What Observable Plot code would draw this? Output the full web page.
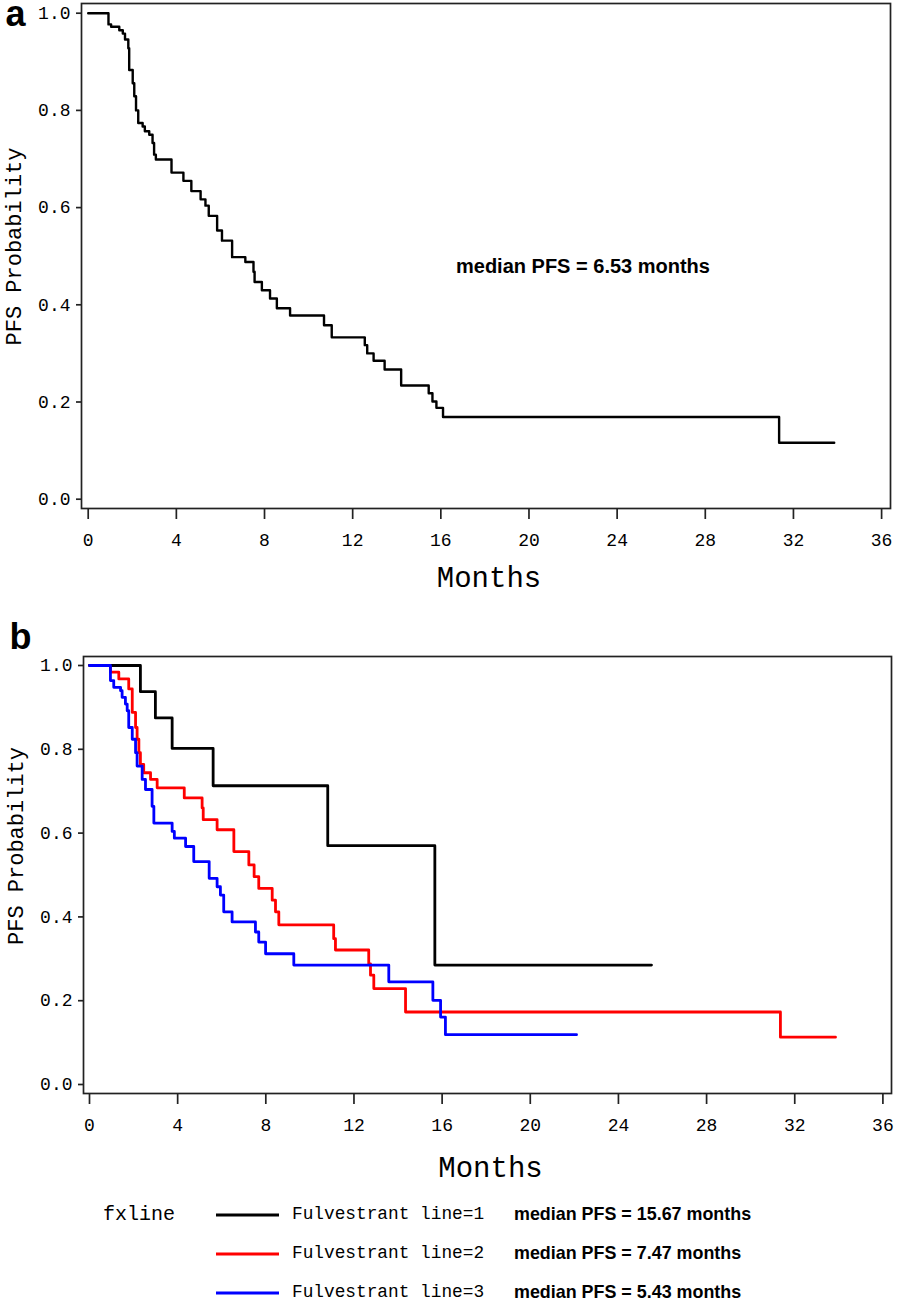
<!DOCTYPE html>
<html>
<head>
<meta charset="utf-8">
<script src="https://cdn.jsdelivr.net/npm/d3@7"></script>
<script src="https://cdn.jsdelivr.net/npm/@observablehq/plot@0.6"></script>
<style>
  html, body { margin: 0; padding: 0; background: #fff; }
  body { width: 898px; height: 1303px; position: relative; overflow: hidden; }
  #panelA { position: absolute; left: 0; top: 0; }
  #panelB { position: absolute; left: 0; top: 600px; }
  #legend { position: absolute; left: 0; top: 1190px; width: 898px; height: 113px; }
  .lg { position: absolute; white-space: nowrap; color: #000; transform: translateY(-50%); line-height: 1; }
  .sw { position: absolute; height: 3px; width: 63px; transform: translateY(-50%); }
</style>
</head>
<body>
<div id="panelA"></div>
<div id="panelB"></div>
<div id="legend"></div>
<script>
// ---------- data ----------
const monthTicks = [0, 4, 8, 12, 16, 20, 24, 28, 32, 36];
const probTicks = [0, 0.2, 0.4, 0.6, 0.8, 1.0];

// Panel a: all patients (Kaplan–Meier steps)
const allMonths = [0, 0.92, 1.04, 1.41, 1.57, 1.67, 1.82, 1.86, 2.02, 2.09, 2.17, 2.27, 2.47, 2.57, 2.77, 2.92, 2.99, 3.07, 3.78, 4.32, 4.68, 5.1, 5.32, 5.47, 5.85, 6.07, 6.53, 7.13, 7.5, 7.55, 7.88, 8.25, 8.56, 9.16, 10.7, 11.05, 12.55, 12.66, 12.95, 13.45, 14.2, 15.45, 15.62, 15.8, 16.1, 31.35, 33.85];
const allSurv = [1.0, 0.977, 0.972, 0.965, 0.958, 0.946, 0.928, 0.883, 0.856, 0.829, 0.80, 0.774, 0.767, 0.757, 0.75, 0.733, 0.709, 0.699, 0.672, 0.655, 0.634, 0.617, 0.604, 0.583, 0.553, 0.532, 0.498, 0.488, 0.468, 0.447, 0.43, 0.413, 0.393, 0.378, 0.358, 0.333, 0.317, 0.30, 0.285, 0.267, 0.234, 0.218, 0.201, 0.188, 0.169, 0.116, 0.116];
const medianTextA = "median PFS = 6.53 months";

// Panel b: by fulvestrant line
const line1Months = [0, 2.31, 2.99, 3.75, 5.61, 10.81, 15.67, 25.5];
const line1Surv = [1.0, 0.9375, 0.875, 0.802, 0.713, 0.570, 0.285, 0.285];

const line2Months = [0, 0.95, 1.33, 1.78, 1.94, 2.09, 2.16, 2.24, 2.31, 2.46, 2.77, 3.07, 4.3, 5.11, 5.16, 5.79, 6.55, 7.23, 7.47, 7.68, 8.29, 8.44, 8.59, 11.08, 11.16, 12.67, 12.75, 12.9, 14.34, 31.35, 33.85];
const line2Surv = [1.0, 0.984, 0.968, 0.944, 0.888, 0.852, 0.824, 0.792, 0.764, 0.744, 0.728, 0.708, 0.684, 0.660, 0.632, 0.608, 0.556, 0.524, 0.496, 0.468, 0.44, 0.412, 0.381, 0.348, 0.321, 0.288, 0.261, 0.229, 0.173, 0.113, 0.113];

const line3Months = [0, 0.95, 1.1, 1.41, 1.48, 1.63, 1.71, 1.78, 1.94, 2.09, 2.16, 2.39, 2.54, 2.84, 2.92, 3.75, 3.85, 4.36, 4.73, 5.43, 5.79, 5.94, 6.09, 6.47, 7.53, 7.68, 7.99, 9.27, 13.58, 15.58, 15.93, 16.15, 22.1];
const line3Surv = [1.0, 0.964, 0.948, 0.94, 0.924, 0.908, 0.892, 0.852, 0.824, 0.792, 0.76, 0.728, 0.704, 0.664, 0.624, 0.604, 0.588, 0.568, 0.532, 0.492, 0.472, 0.452, 0.412, 0.388, 0.364, 0.34, 0.312, 0.285, 0.245, 0.201, 0.161, 0.119, 0.119];

// Legend
const legendTitle = "fxline";
const lineNames = ["Fulvestrant line=1", "Fulvestrant line=2", "Fulvestrant line=3"];
const lineMedians = ["median PFS = 15.67 months", "median PFS = 7.47 months", "median PFS = 5.43 months"];
const lineColors = ["#000000", "#ff0000", "#0000ff"];

const xLabel = "Months";
const yLabel = "PFS Probability";

// ---------- helpers ----------
const mono = "'Liberation Mono', 'DejaVu Sans Mono', monospace";
const sans = "'Liberation Sans', Arial, sans-serif";
const toRows = (ms, ss) => ms.map((t, i) => ({month: t, surv: ss[i]}));
const axisStroke = "#222";

function commonMarks(xlabelDy, ylabelDy, panelLetter, letterDx, letterDy) {
  return [
    Plot.frame({stroke: axisStroke, strokeWidth: 1.7}),
    Plot.axisX(monthTicks, {tickSize: 11, tickPadding: 14, label: null, stroke: axisStroke, strokeWidth: 1.7}),
    Plot.axisY(probTicks, {tickSize: 5, tickPadding: 6, label: null, tickFormat: d3.format(".1f"), stroke: axisStroke, strokeWidth: 1.7}),
    Plot.text([xLabel], {frameAnchor: "bottom", dx: 3, dy: xlabelDy, lineAnchor: "middle", fontSize: 29, fontFamily: mono}),
    Plot.text([yLabel], {frameAnchor: "left", textAnchor: "middle", rotate: -90, dx: -68, dy: ylabelDy, lineAnchor: "middle", fontSize: 22, fontFamily: mono}),
    Plot.text([panelLetter], {frameAnchor: "top-left", textAnchor: "start", lineAnchor: "middle", dx: letterDx, dy: letterDy, fontSize: 36, fontWeight: "bold", fontFamily: sans})
  ];
}

// ---------- panel a ----------
const plotA = Plot.plot({
  width: 898, height: 600,
  marginTop: 3, marginLeft: 81, marginRight: 8, marginBottom: 92,
  insetTop: 9.7, insetBottom: 9.3, insetLeft: 6.7, insetRight: 8.9,
  x: {domain: [0, 36]},
  y: {domain: [0, 1]},
  style: {fontFamily: mono, fontSize: "18px", color: "#000", background: "transparent", overflow: "visible"},
  marks: [
    ...commonMarks(69, -9.5, "a", -76, 11),
    Plot.line(toRows(allMonths, allSurv), {x: "month", y: "surv", curve: "step-after", stroke: "#000", strokeWidth: 2.4}),
    Plot.text([medianTextA], {x: () => 22.45, y: () => 0.479, fontFamily: sans, fontWeight: "bold", fontSize: 20, lineAnchor: "middle"})
  ]
});
document.getElementById("panelA").appendChild(plotA);

// ---------- panel b ----------
const plotB = Plot.plot({
  width: 898, height: 590,
  marginTop: 56, marginLeft: 83, marginRight: 7, marginBottom: 97,
  insetTop: 9, insetBottom: 9, insetLeft: 6, insetRight: 8.6,
  x: {domain: [0, 36]},
  y: {domain: [0, 1]},
  style: {fontFamily: mono, fontSize: "18px", color: "#000", background: "transparent", overflow: "visible"},
  marks: [
    ...commonMarks(74, -29, "b", -74, -19.5),
    Plot.line(toRows(line2Months, line2Surv), {x: "month", y: "surv", curve: "step-after", stroke: lineColors[1], strokeWidth: 2.8}),
    Plot.line(toRows(line1Months, line1Surv), {x: "month", y: "surv", curve: "step-after", stroke: lineColors[0], strokeWidth: 2.8}),
    Plot.line(toRows(line3Months, line3Surv), {x: "month", y: "surv", curve: "step-after", stroke: lineColors[2], strokeWidth: 2.8})
  ]
});
document.getElementById("panelB").appendChild(plotB);

// ---------- legend ----------
const legend = document.getElementById("legend");
const rowY = [25, 64, 103];
const title = document.createElement("div");
title.className = "lg";
title.textContent = legendTitle;
Object.assign(title.style, {left: "103px", top: rowY[0] + "px", fontFamily: mono, fontSize: "20px"});
legend.appendChild(title);
lineNames.forEach((name, i) => {
  const sw = document.createElement("div");
  sw.className = "sw";
  Object.assign(sw.style, {left: "216px", top: rowY[i] + "px", background: lineColors[i]});
  legend.appendChild(sw);
  const t = document.createElement("div");
  t.className = "lg";
  t.textContent = name;
  Object.assign(t.style, {left: "292px", top: rowY[i] + "px", fontFamily: mono, fontSize: "17.8px"});
  legend.appendChild(t);
  const m = document.createElement("div");
  m.className = "lg";
  m.textContent = lineMedians[i];
  Object.assign(m.style, {left: "514px", top: rowY[i] + "px", fontFamily: sans, fontWeight: "bold", fontSize: "17.9px"});
  legend.appendChild(m);
});
</script>
</body>
</html>
